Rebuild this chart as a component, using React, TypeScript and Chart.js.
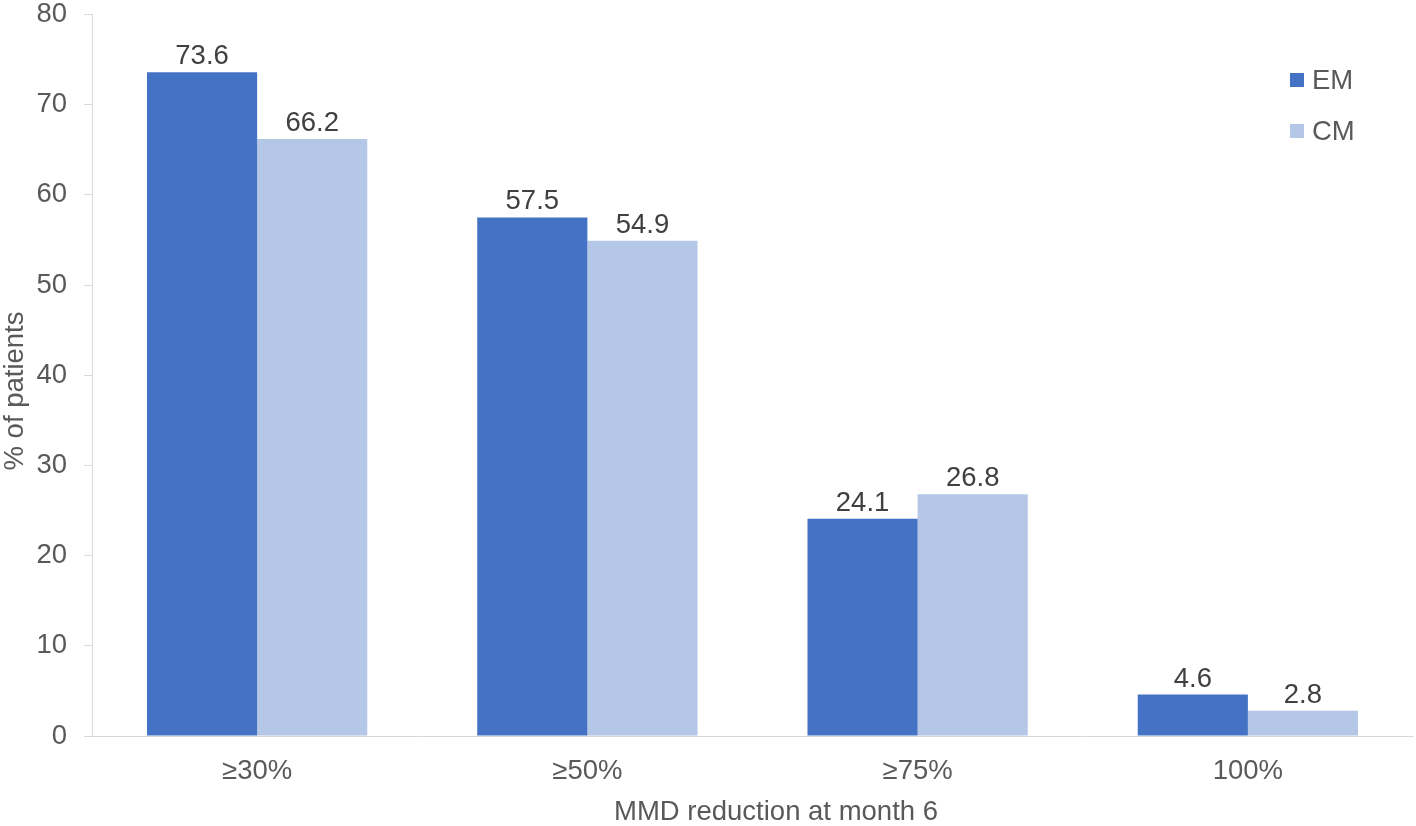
import React, { useEffect, useRef } from "react";
import { Chart, registerables } from "chart.js";

Chart.register(...registerables);

const categories = ["≥30%", "≥50%", "≥75%", "100%"];
const emValues = [73.6, 57.5, 24.1, 4.6];
const cmValues = [66.2, 54.9, 26.8, 2.8];
const seriesNames = ["EM", "CM"];
const seriesColors = ["#4472C4", "#B4C7E7"];
const yTitle = "% of patients";
const xTitle = "MMD reduction at month 6";

const FONT = '"Liberation Sans", Arial, sans-serif';
const FS = 27.5;

const decorPlugin = {
  id: "decor",
  afterDatasetsDraw(chart: any) {
    const ctx = chart.ctx;
    ctx.save();
    // data labels
    ctx.font = `${FS}px ${FONT}`;
    ctx.fillStyle = "#404040";
    ctx.textAlign = "center";
    ctx.textBaseline = "alphabetic";
    chart.data.datasets.forEach((ds: any, i: number) => {
      const meta = chart.getDatasetMeta(i);
      meta.data.forEach((bar: any, j: number) => {
        ctx.fillText(String(ds.data[j]), bar.x, bar.y - 8);
      });
    });
    // legend
    const area = chart.chartArea;
    const lx = area.right - 123;
    const rows = [80, 131];
    chart.data.datasets.forEach((ds: any, i: number) => {
      const cy = rows[i];
      ctx.fillStyle = ds.backgroundColor;
      ctx.fillRect(lx, cy - 7, 14, 14);
      ctx.fillStyle = "#595959";
      ctx.textAlign = "left";
      ctx.textBaseline = "middle";
      ctx.fillText(ds.label, lx + 22, cy + 1);
    });
    // axis titles
    ctx.fillStyle = "#595959";
    ctx.textAlign = "center";
    ctx.textBaseline = "middle";
    ctx.fillText(xTitle, 776, 812);
    ctx.translate(15, 391);
    ctx.rotate(-Math.PI / 2);
    ctx.fillText(yTitle, 0, 0);
    ctx.restore();
  },
};

export default function App() {
  const ref = useRef<HTMLCanvasElement | null>(null);
  useEffect(() => {
    if (!ref.current) return;
    const chart = new Chart(ref.current, {
      type: "bar",
      data: {
        labels: categories,
        datasets: [
          { label: seriesNames[0], data: emValues, backgroundColor: seriesColors[0], borderWidth: 0 },
          { label: seriesNames[1], data: cmValues, backgroundColor: seriesColors[1], borderWidth: 0 },
        ],
      },
      options: {
        responsive: false,
        animation: false,
        devicePixelRatio: 1,
        layout: { padding: { top: 14.5, right: 3, left: 0, bottom: 0 } },
        datasets: {
          bar: { categoryPercentage: 0.667, barPercentage: 1 },
        },
        plugins: {
          legend: { display: false },
          tooltip: { enabled: false },
          title: { display: false },
        },
        scales: {
          x: {
            grid: { display: true, drawOnChartArea: false, drawTicks: false, color: "#d9d9d9" },
            border: { display: true, color: "#d9d9d9", width: 1 },
            ticks: {
              color: "#595959",
              font: { family: FONT, size: FS, lineHeight: 1 },
              padding: 22,
              maxRotation: 0,
            },
            afterFit: (s: any) => {
              s.height = 90;
              s.paddingLeft = 0;
              s.paddingRight = 0;
              s.paddingTop = 0;
              s.paddingBottom = 0;
            },
          },
          y: {
            min: 0,
            max: 80,
            grid: {
              display: true,
              drawOnChartArea: false,
              drawTicks: true,
              tickLength: 8,
              color: "#d9d9d9",
            },
            border: { display: true, color: "#d9d9d9", width: 1 },
            ticks: {
              stepSize: 10,
              color: "#595959",
              font: { family: FONT, size: FS, lineHeight: 1 },
              padding: 17,
            },
            afterFit: (s: any) => {
              s.width = 92;
              s.paddingTop = 0;
              s.paddingBottom = 0;
              s.paddingLeft = 0;
              s.paddingRight = 0;
            },
          },
        },
      },
      plugins: [decorPlugin],
    });
    return () => chart.destroy();
  }, []);
  return (
    <div style={{ position: "absolute", left: 0, top: 0, width: 1416, height: 826, background: "#fff" }}>
      <canvas ref={ref} width={1416} height={826} style={{ display: "block" }} />
    </div>
  );
}
